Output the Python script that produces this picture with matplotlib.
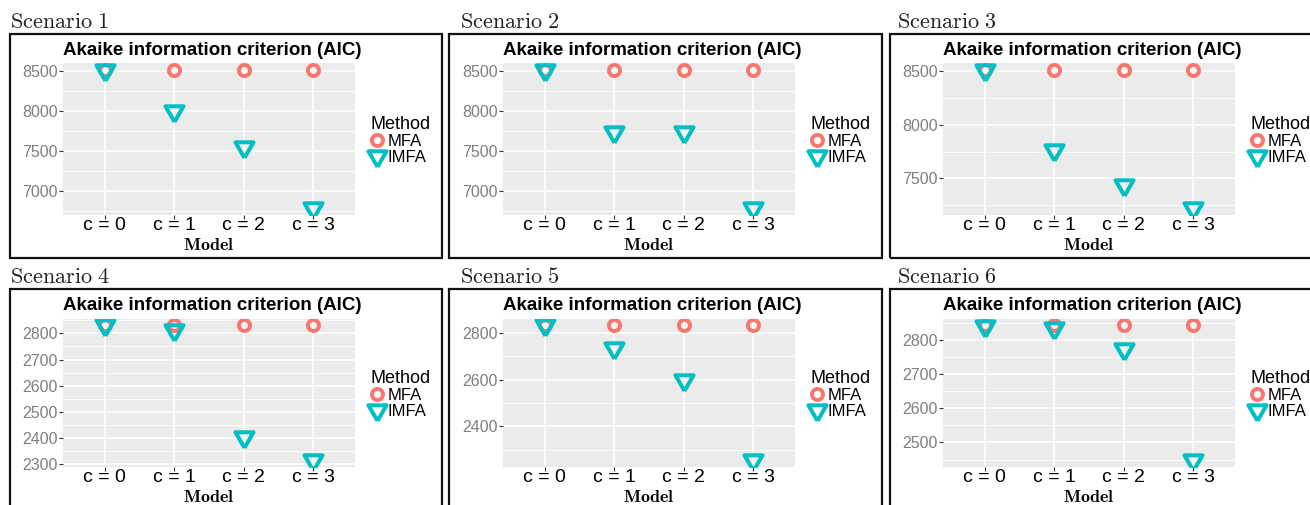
import matplotlib
matplotlib.use("Agg")
import matplotlib.pyplot as plt
from matplotlib.patches import Rectangle

plt.rcParams['mathtext.fontset'] = 'cm'
plt.rcParams['font.family'] = ['Liberation Sans', 'DejaVu Sans']

categories = ["c = 0", "c = 1", "c = 2", "c = 3"]
scenarios = ["Scenario 1", "Scenario 2", "Scenario 3",
             "Scenario 4", "Scenario 5", "Scenario 6"]

mfa_s1 = [8517, 8517, 8517, 8517]
imfa_s1 = [8512, 7998, 7555, 6790]
mfa_s2 = [8517, 8517, 8517, 8517]
imfa_s2 = [8512, 7742, 7746, 6790]
mfa_s3 = [8513, 8513, 8513, 8513]
imfa_s3 = [8510, 7766, 7437, 7222]
mfa_s4 = [2831, 2831, 2831, 2831]
imfa_s4 = [2831, 2813, 2404, 2316]
mfa_s5 = [2832, 2832, 2832, 2832]
imfa_s5 = [2832, 2733, 2600, 2255]
mfa_s6 = [2843, 2843, 2843, 2843]
imfa_s6 = [2841, 2836, 2773, 2448]

yticks = [
    [7000, 7500, 8000, 8500],
    [7000, 7500, 8000, 8500],
    [7500, 8000, 8500],
    [2300, 2400, 2500, 2600, 2700, 2800],
    [2400, 2600, 2800],
    [2500, 2600, 2700, 2800],
]

mfa_all = [mfa_s1, mfa_s2, mfa_s3, mfa_s4, mfa_s5, mfa_s6]
imfa_all = [imfa_s1, imfa_s2, imfa_s3, imfa_s4, imfa_s5, imfa_s6]

MFA_COL = "#F8766D"
IMFA_COL = "#00BFC4"
TRI = [(0, -1), (-0.866, 0.5), (0.866, 0.5), (0, -1)]

W, H = 1310, 505
fig = plt.figure(figsize=(W / 100, H / 100), dpi=100)

col_ax_left = [63, 503, 943]
row_ax = [(63, 215), (318.5, 467)]
ax_w = 292

boxes_x = [(10, 442), (449, 882), (890, 1320)]
boxes_y = [(34, 258), (289, 520)]
scen_x = [10, 460, 897]
scen_base = [28, 283]

for i in range(6):
    r, c = divmod(i, 3)
    top, bot = row_ax[r]
    ax = fig.add_axes([col_ax_left[c] / W, 1 - bot / H, ax_w / W, (bot - top) / H])
    ax.set_facecolor("#EBEBEB")
    x = list(range(len(categories)))
    ax.plot(x, mfa_all[i], linestyle="none", marker="o", markersize=8,
            markerfacecolor="none", markeredgecolor=MFA_COL, markeredgewidth=2.8,
            label="MFA", zorder=3)
    ax.plot(x, imfa_all[i], linestyle="none", marker=TRI, markersize=15,
            markerfacecolor="none", markeredgecolor=IMFA_COL, markeredgewidth=2.9,
            label="IMFA", zorder=4)
    ax.set_xticks(x)
    ax.set_xticklabels(categories, fontsize=14, color="black")
    yt = yticks[i]
    ax.set_yticks(yt)
    ax.set_yticklabels([str(v) for v in yt], fontsize=11.5, color="#7F7F7F")
    step = yt[1] - yt[0]
    minors = [yt[0] - step / 2] + [(a + b) / 2 for a, b in zip(yt[:-1], yt[1:])] + [yt[-1] + step / 2]
    ax.set_yticks(minors, minor=True)
    ax.set_xlim(-0.6, len(categories) - 0.4)
    allv = mfa_all[i] + imfa_all[i]
    lo, hi = min(allv), max(allv)
    pad = 0.05 * (hi - lo)
    ax.set_ylim(lo - pad, hi + pad)
    ax.tick_params(axis="y", which="minor", length=0)
    ax.tick_params(axis="both", which="major", length=3, width=0.8, color="#333333", pad=1)
    ax.tick_params(axis="x", pad=-1.5)
    ax.grid(True, which="major", color="white", linewidth=1.2)
    ax.grid(True, which="minor", axis="y", color="white", linewidth=0.6)
    ax.set_axisbelow(True)
    for s in ax.spines.values():
        s.set_visible(False)
    ax.set_title("Akaike information criterion (AIC)", loc="left", fontsize=13.5,
                 fontweight="bold", pad=6)
    ax.set_xlabel(r"$\mathbf{Model}$", fontsize=13, labelpad=2)
    ax.legend(title="Method", loc="center left", bbox_to_anchor=(1.052, 0.49),
              frameon=False, fontsize=12, title_fontsize=13,
              handlelength=0.8, handletextpad=0.25, labelspacing=0.05,
              borderpad=0, borderaxespad=0, alignment="left")

    bx0, bx1 = boxes_x[c]
    by0, by1 = boxes_y[r]
    fig.add_artist(Rectangle((bx0 / W, 1 - by1 / H), (bx1 - bx0) / W, (by1 - by0) / H,
                             transform=fig.transFigure, fill=False,
                             edgecolor="#111111", linewidth=1.6, clip_on=False))
    fig.text(scen_x[c] / W, 1 - scen_base[r] / H,
             r"$\mathrm{" + scenarios[i].replace(" ", r"\ ") + "}$",
             fontsize=16, va="baseline", ha="left", color="#222222")

fig.savefig("out.png", dpi=100)
